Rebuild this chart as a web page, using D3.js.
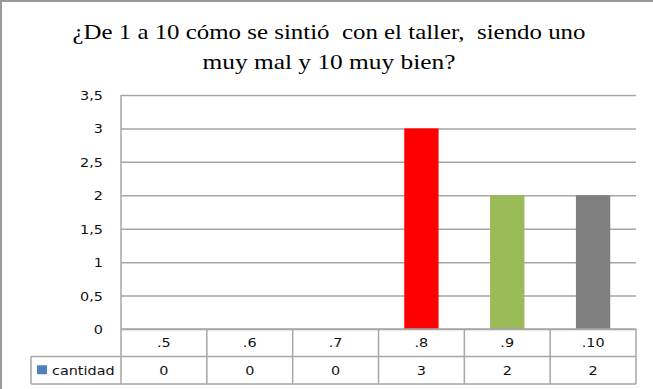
<!DOCTYPE html>
<html>
<head>
<meta charset="utf-8">
<script src="https://cdn.jsdelivr.net/npm/d3@7"></script>
<style>
  html, body { margin: 0; padding: 0; background: #fff; }
  svg { display: block; }
</style>
</head>
<body>
<svg id="chart" width="653" height="389"></svg>
<script>
// Survey answers: how participants rated the workshop
const categories = [".5", ".6", ".7", ".8", ".9", ".10"];
const cantidad = [0, 0, 0, 3, 2, 2];
const barColors = ["#4f81bd", "#4f81bd", "#4f81bd", "#ff0000", "#9bbb59", "#808080"];
const yTicks = [0, 0.5, 1, 1.5, 2, 2.5, 3, 3.5];
const seriesName = "cantidad";
const titleLines = ["¿De 1 a 10 cómo se sintió  con el taller,  siendo uno", "muy mal y 10 muy bien?"];

const W = 653, H = 389;
const plot = { left: 121, right: 636, top: 95, bottom: 329 };
const rowH = 27.5;
const legendLeft = 31;
const gridColor = "#a6a6a6";
const textColor = "#111";
const uiFont = "'DejaVu Sans', Verdana, sans-serif";
const uiSize = 12;
const uiStretch = 1.2;   // labels are set in a wide face

const svg = d3.select("#chart");

// places a text at (ax, ay) and widens it horizontally around its anchor
function widen(sel, ax, ay) {
  sel.each(function (d, i) {
    const t = d3.select(this);
    const px = typeof ax === "function" ? ax(d, i) : ax;
    const py = typeof ay === "function" ? ay(d, i) : ay;
    t.attr("x", 0).attr("y", 0).attr("dy", null)
      .attr("transform", `translate(${px},${py}) scale(${uiStretch},1)`);
  });
}

// outer frame (top and left edges)
svg.append("path")
  .attr("d", `M1,${H} V1 H${W}`)
  .attr("fill", "none").attr("stroke", "#9a9a9a").attr("stroke-width", 2);

// title, two centred lines
const titleWidths = [513, 253];
svg.append("g").selectAll("text").data(titleLines).join("text")
  .attr("x", 329)
  .attr("y", (d, i) => 39 + i * 30)
  .attr("text-anchor", "middle")
  .attr("font-family", "'Liberation Serif', 'Times New Roman', serif")
  .attr("font-size", 21.5)
  .attr("fill", "#000")
  .attr("textLength", (d, i) => titleWidths[i])
  .attr("lengthAdjust", "spacingAndGlyphs")
  .style("white-space", "pre")
  .text(d => d);

const x = d3.scaleBand().domain(categories).range([plot.left, plot.right]).padding(0);
const y = d3.scaleLinear().domain([0, 3.5]).range([plot.bottom, plot.top]);

// horizontal gridlines and y labels
const yAxis = d3.axisLeft(y)
  .tickValues(yTicks)
  .tickSize(-(plot.right - plot.left))
  .tickPadding(18)
  .tickFormat(d => String(d).replace(".", ","));

const gy = svg.append("g").attr("transform", `translate(${plot.left},0)`).call(yAxis);
gy.select(".domain").remove();
gy.selectAll(".tick line").attr("stroke", gridColor).attr("stroke-width", 1.5);
gy.selectAll(".tick text")
  .attr("font-family", uiFont).attr("font-size", uiSize).attr("fill", textColor)
  .call(widen, -18, 4.5);

// bars
const barW = x.bandwidth() * 0.4;
svg.append("g").selectAll("rect").data(cantidad).join("rect")
  .attr("x", (d, i) => x(categories[i]) + (x.bandwidth() - barW) / 2)
  .attr("y", d => y(d))
  .attr("width", barW)
  .attr("height", d => y(0) - y(d))
  .attr("fill", (d, i) => barColors[i]);

// data table below the axis
const b = plot.bottom;
const table = svg.append("g").attr("stroke", gridColor).attr("stroke-width", 1.5).attr("fill", "none");
table.append("line").attr("x1", plot.left).attr("x2", plot.left).attr("y1", plot.top).attr("y2", b + 2 * rowH);
table.append("line").attr("x1", plot.left).attr("x2", plot.right).attr("y1", b).attr("y2", b);
table.append("line").attr("x1", legendLeft).attr("x2", plot.right).attr("y1", b + rowH).attr("y2", b + rowH);
table.append("line").attr("x1", legendLeft).attr("x2", plot.right).attr("y1", b + 2 * rowH).attr("y2", b + 2 * rowH);
table.append("line").attr("x1", legendLeft).attr("x2", legendLeft).attr("y1", b + rowH).attr("y2", b + 2 * rowH);
table.selectAll("line.sep").data(categories).join("line").attr("class", "sep")
  .attr("x1", d => x(d) + x.bandwidth()).attr("x2", d => x(d) + x.bandwidth())
  .attr("y1", b).attr("y2", b + 2 * rowH);

const cells = svg.append("g")
  .attr("font-family", uiFont).attr("font-size", uiSize).attr("fill", textColor)
  .attr("text-anchor", "middle");
cells.selectAll("text.cat").data(categories).join("text").attr("class", "cat")
  .text(d => d)
  .call(widen, d => x(d) + x.bandwidth() / 2, b + rowH / 2 + 4.5);
cells.selectAll("text.val").data(cantidad).join("text").attr("class", "val")
  .text(d => d)
  .call(widen, (d, i) => x(categories[i]) + x.bandwidth() / 2, b + rowH * 1.5 + 4.5);

// legend key inside the row header
svg.append("rect")
  .attr("x", 37).attr("y", b + rowH * 1.5 - 5)
  .attr("width", 10).attr("height", 9)
  .attr("fill", "#4f81bd");
svg.append("text")
  .attr("font-family", uiFont).attr("font-size", uiSize).attr("fill", textColor)
  .text(seriesName)
  .call(widen, 52, b + rowH * 1.5 + 4.5);
</script>
</body>
</html>
